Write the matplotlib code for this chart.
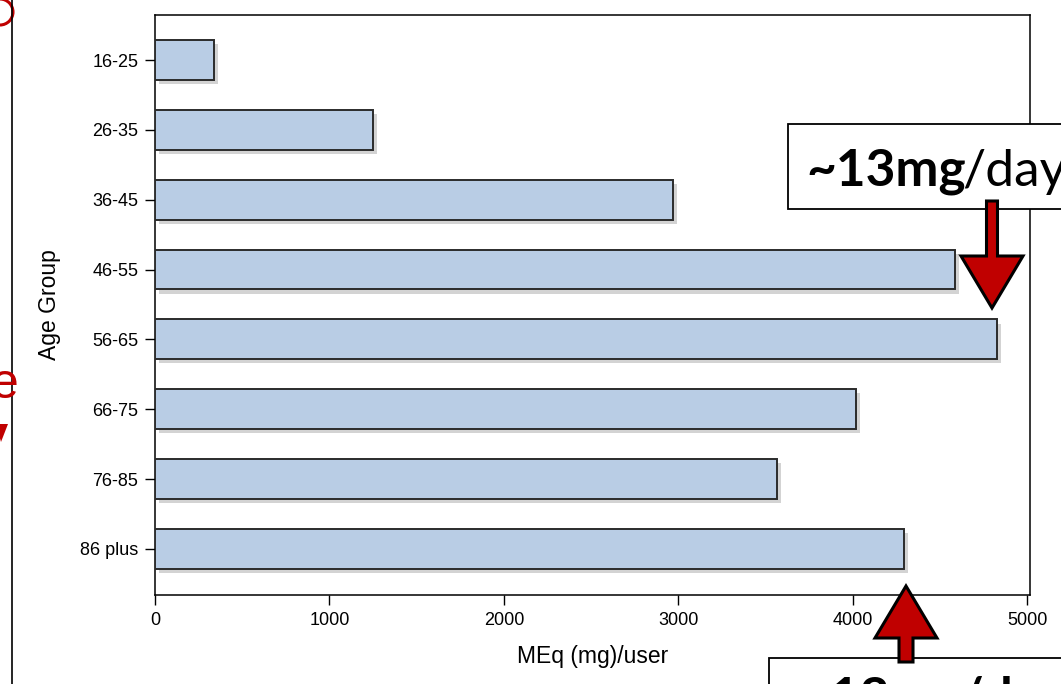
import matplotlib
matplotlib.use("Agg")
import matplotlib.pyplot as plt
import matplotlib.patheffects as pe
from matplotlib.patches import Polygon, Rectangle, Circle
from matplotlib.transforms import Affine2D

# -------- DATA --------
age_groups = ["16-25", "26-35", "36-45", "46-55", "56-65", "66-75", "76-85", "86 plus"]
meq_per_user = [338, 1250, 2970, 4587, 4828, 4020, 3567, 4295]
x_ticks = [0, 1000, 2000, 3000, 4000, 5000]

W, H = 1061, 684
plt.rcParams['font.family'] = ['Liberation Sans', 'DejaVu Sans']

fig = plt.figure(figsize=(W / 100, H / 100), dpi=100)
ax = fig.add_axes([155 / W, 1 - 595 / H, (1030 - 155) / W, (595 - 15) / H])

# pixel coords measured from top-left of the image
px = Affine2D().scale(1, -1).translate(0, H)

# -------- BARS --------
shadow = [pe.SimplePatchShadow(offset=(3, -3), shadow_rgbFace="#a8a8a8", alpha=0.5), pe.Normal()]
bars = ax.barh(range(len(age_groups)), meq_per_user, height=0.57,
               color="#B9CDE5", edgecolor="#2b2b2b", linewidth=1.4, zorder=3)
for b in bars:
    b.set_path_effects(shadow)

ax.set_yticks(range(len(age_groups)))
ax.set_yticklabels(age_groups)
ax.set_ylim(len(age_groups) - 1 + 0.66, -0.645)
ax.set_xlim(0, 5017)
ax.set_xticks(x_ticks)
ax.tick_params(axis="both", direction="out", length=7, width=1, labelsize=13, pad=5, colors="black")
for s in ax.spines.values():
    s.set_linewidth(1.1)
    s.set_color("black")

ax.set_xlabel("MEq (mg)/user", fontsize=16.5, labelpad=12)
ax.set_ylabel("Age Group", fontsize=16.5, labelpad=14)

# -------- ANNOTATIONS --------
def red_arrow(tip_x, tip_y, head_w, head_h, shaft_w, shaft_len, up):
    d = -1 if up else 1
    base_y = tip_y - d * head_h
    end_y = base_y - d * shaft_len
    pts = [(tip_x, tip_y), (tip_x - head_w / 2, base_y), (tip_x - shaft_w / 2, base_y),
           (tip_x - shaft_w / 2, end_y), (tip_x + shaft_w / 2, end_y),
           (tip_x + shaft_w / 2, base_y), (tip_x + head_w / 2, base_y)]
    fig.add_artist(Polygon(pts, closed=True, facecolor="#C00000", edgecolor="black",
                           linewidth=2.2, joinstyle="miter", transform=px, zorder=10))

# top box
fig.add_artist(Rectangle((788, 124), 300, 85, facecolor="white", edgecolor="black",
                         linewidth=1.3, transform=px, zorder=9))
bold = fig.text(806 / W, 1 - 186 / H, "~13mg", fontsize=37, fontweight="bold", family="Lato",
                ha="left", va="baseline", zorder=11)
fig.canvas.draw()
bb = bold.get_window_extent()
fig.text(bb.x1 / W - 0.003, 1 - 186 / H, "/day", fontsize=37, family="Lato",
         ha="left", va="baseline", zorder=11)
red_arrow(992, 308, 62, 52, 11, 55, up=False)

# bottom box (cut off)
fig.add_artist(Rectangle((769, 658), 320, 60, facecolor="white", edgecolor="black",
                         linewidth=1.3, transform=px, zorder=9))
fig.text(800 / W, 1 - 713 / H, "~13mg/day", fontsize=37, fontweight="bold", family="Lato",
         ha="left", va="baseline", zorder=11)
red_arrow(906, 586, 62, 52, 14, 24, up=True)

# slide leftovers on the left edge
fig.add_artist(plt.Line2D([12, 12], [0, H], color="black", linewidth=1.2, transform=px))
fig.add_artist(Circle((0, 12), 13, facecolor="none", edgecolor="#C00000", linewidth=2.2, transform=px))
fig.text(-9 / W, 1 - 398 / H, "e", fontsize=36, color="#C00000", ha="left", va="baseline")
fig.add_artist(Polygon([(-4, 424), (8, 424), (1, 442)], closed=True, facecolor="#C00000",
                       edgecolor="none", transform=px))

fig.savefig("out.png", dpi=100)
